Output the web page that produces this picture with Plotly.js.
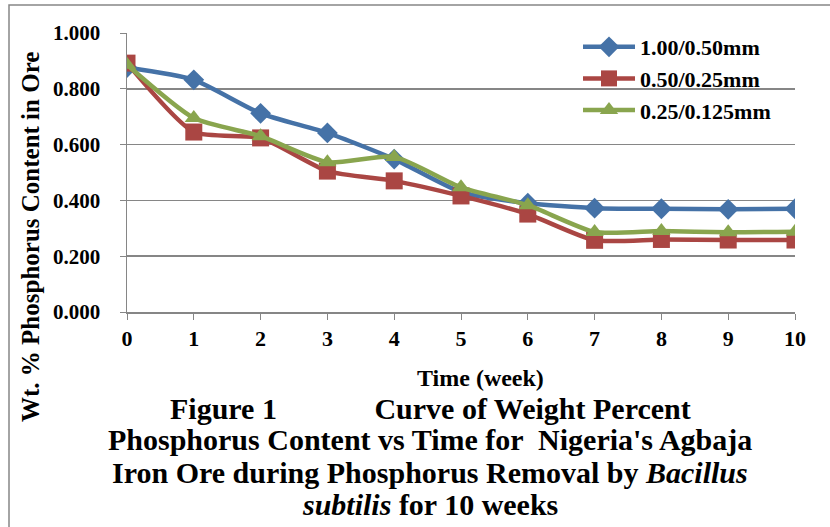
<!DOCTYPE html>
<html>
<head>
<meta charset="utf-8">
<script src="https://cdn.plot.ly/plotly-3.0.1.min.js"></script>
<style>html,body{margin:0;padding:0;background:#fff;}#chart{width:830px;height:527px;}</style>
</head>
<body>
<div id="chart"></div>
<script>
const weeks = [0,1,2,3,4,5,6,7,8,9,10];
const seriesNames = ["1.00/0.50mm", "0.50/0.25mm", "0.25/0.125mm"];
const coarse = [0.876,0.832,0.712,0.642,0.548,0.430,0.390,0.372,0.370,0.368,0.370];
const medium = [0.892,0.645,0.624,0.505,0.470,0.416,0.351,0.257,0.260,0.258,0.258];
const fine   = [0.886,0.695,0.630,0.537,0.556,0.447,0.383,0.287,0.290,0.286,0.288];
const yTicks = [0,0.2,0.4,0.6,0.8,1.0];
const yTickText = ["0.000","0.200","0.400","0.600","0.800","1.000"];

const font = "Liberation Serif, Times New Roman, serif";
const colors = ["#4572A7","#AA4643","#89A54E"];
const symbols = ["diamond","square","triangle-up"];
const data = [coarse, medium, fine].map((vals,i)=>({
  x: weeks, y: vals, name: seriesNames[i], type: "scatter", mode: "lines+markers",
  line: {color: colors[i], width: 4.5, shape: "spline", smoothing: 0.6},
  marker: {symbol: symbols[i], size: i===1?17:16, color: colors[i]}
}));

const L=127, R=795, T=33, B=312;
const px = x => (x-L)/(R-L);
const py = y => (B-y)/(B-T);

const capFont = {family: font, size: 30, weight: "bold"};
const cap = (text, y) => ({text: text, xref: "paper", yref: "paper", x: px(430), y: py(y),
  xanchor: "center", yanchor: "middle", showarrow: false, font: capFont});

const layout = {
  width: 830, height: 527,
  margin: {l: L, r: 830-R, t: T, b: 527-B},
  paper_bgcolor: "#fff", plot_bgcolor: "#fff",
  font: {family: font, color: "#000"},
  showlegend: true,
  legend: {x: px(578), y: py(26), xanchor: "left", yanchor: "top", bgcolor: "rgba(0,0,0,0)",
           font: {family: font, size: 22, weight: "bold"}, tracegroupgap: 2, itemwidth: 52},
  xaxis: {range: [0,10], tickvals: weeks, ticktext: weeks.map(String), showgrid: false,
          showline: true, linecolor: "#868686", linewidth: 1.5, ticks: "outside", ticklen: 6, tickcolor: "#868686",
          tickfont: {family: font, size: 22, weight: "bold"}, zeroline: false, fixedrange: true},
  yaxis: {range: [0,1], tickvals: yTicks, ticktext: yTickText, showgrid: true, gridcolor: "#868686", gridwidth: 1.5,
          showline: true, linecolor: "#868686", linewidth: 1.5, ticks: "outside", ticklen: 6, tickcolor: "#868686",
          ticklabelstandoff: 15,
          tickfont: {family: font, size: 21, weight: "bold"}, zeroline: false, fixedrange: true},
  shapes: [{type: "rect", xref: "paper", yref: "paper", x0: px(9), x1: px(840), y0: py(540), y1: py(5),
            line: {color: "#868686", width: 1.5}, fillcolor: "rgba(0,0,0,0)"}],
  annotations: [
    {text: "Wt. % Phosphorus Content in Ore", xref: "paper", yref: "paper", x: px(30), y: py(237),
     xanchor: "center", yanchor: "middle", textangle: -90, showarrow: false,
     font: {family: font, size: 25, weight: "bold"}},
    {text: "Time (week)", xref: "paper", yref: "paper", x: px(480), y: py(378),
     xanchor: "center", yanchor: "middle", showarrow: false, font: {family: font, size: 24, weight: "bold"}},
    cap("Figure 1&nbsp;&nbsp;&nbsp;&nbsp;&nbsp;&nbsp;&nbsp;&nbsp;&nbsp;&nbsp;&nbsp;&nbsp; Curve of Weight Percent", 408),
    cap("Phosphorus Content vs Time for &nbsp;Nigeria's Agbaja", 440),
    cap("Iron Ore during Phosphorus Removal by <i>Bacillus</i>", 472),
    cap("<i>subtilis</i> for 10 weeks", 504)
  ]
};
Plotly.newPlot("chart", data, layout, {displayModeBar: false, staticPlot: true});
</script>
</body>
</html>
